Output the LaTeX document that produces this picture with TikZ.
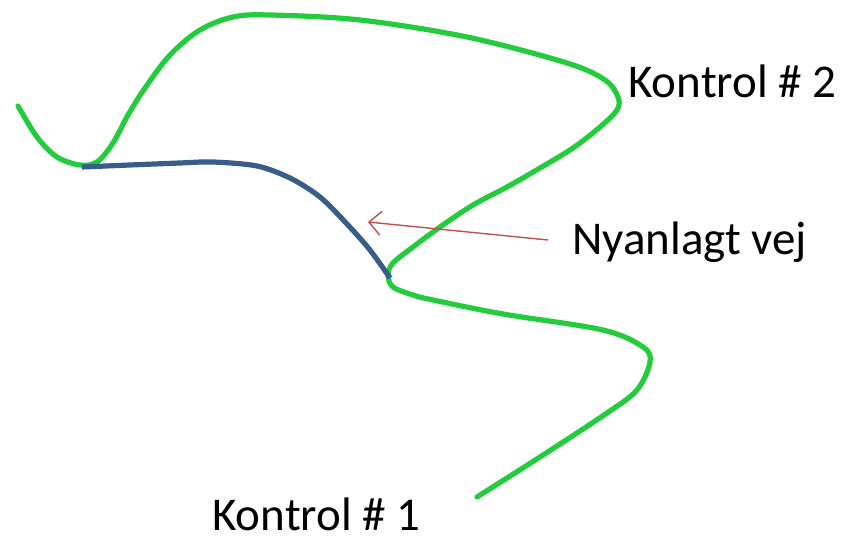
\documentclass[tikz,border=0pt]{standalone}
\usepackage{fontspec}
\setmainfont{Carlito}
\usepackage{tikz}
\usetikzlibrary{arrows.meta}
\definecolor{vejgroen}{RGB}{34,204,60}
\definecolor{vejblaa}{RGB}{56,93,138}
\definecolor{pilrod}{RGB}{192,80,77}

\begin{document}
\begin{tikzpicture}[x=0.5pt,y=-0.5pt,
  gammel/.style={vejgroen,line width=2.6pt,line cap=round},
  ny/.style={vejblaa,line width=2.6pt},
  pil/.style={pilrod,line width=0.7pt,-{Straight Barb[length=6pt,width=12pt]}},
  tekst/.style={anchor=base west,inner sep=0pt,font=\fontsize{23.5}{28}\selectfont}]
\useasboundingbox (0,0) rectangle (843,539);
% gammel vej
\draw[gammel] plot[smooth,tension=0.55] coordinates {(18,106) (37,137) (57,157) (80,165) (97,162) (113,143)
  (128,115) (145,88) (170,55) (200,30) (233,17) (270,15) (360,20) (467,37) (567,63) (605,80) (618,97)
  (617,110) (600,127) (573,148) (540,168) (507,187) (473,205) (440,227) (413,247) (393,263) (388,275)
  (393,287) (413,295) (433,300) (503,314) (603,330) (643,347) (650,362)
  (637,390) (607,413) (540,457) (477,497)};
% ny vej
\draw[ny] plot[smooth,tension=0.5] coordinates {(82,167) (130,165) (180,163) (213,162) (257,166) (290,178)
  (320,197) (347,224) (370,250) (390,278)};
% tekster
\node[tekst] (k2) at (628,98) {Kontrol \# 2};
\node[tekst] (k1) at (212,531) {Kontrol \# 1};
\node[tekst] (vej) at (572,255) {Nyanlagt vej};
\coordinate (spids) at (368,222);
\coordinate (hale) at (548,240);
\draw[pil] (hale) -- (spids);
\end{tikzpicture}
\end{document}
